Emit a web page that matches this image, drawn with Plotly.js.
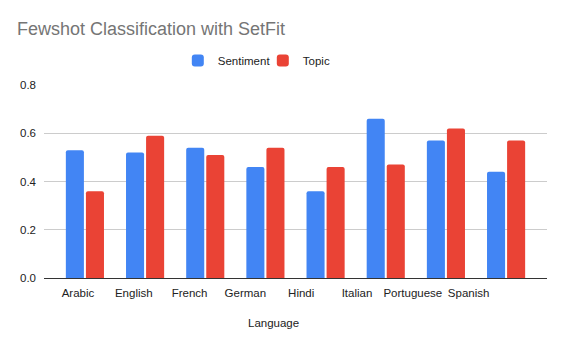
<!DOCTYPE html>
<html>
<head>
<meta charset="utf-8">
<script src="https://cdn.plot.ly/plotly-3.0.1.min.js"></script>
<style>
  html, body { margin: 0; padding: 0; background: #fff; }
  #chart { width: 564px; height: 348px; }
</style>
</head>
<body>
<div id="chart"></div>
<script>
var languages = ['Arabic', 'English', 'French', 'German', 'Hindi', 'Italian', 'Portuguese', 'Spanish'];
var sentiment = [0.53, 0.52, 0.54, 0.46, 0.36, 0.66, 0.57, 0.44];
var topic = [0.36, 0.59, 0.51, 0.54, 0.46, 0.47, 0.62, 0.57];
var yTicks = [0, 0.2, 0.4, 0.6, 0.8];

var idx = languages.map(function(d, i) { return i; });

var txt = { family: 'Arial, "Liberation Sans", sans-serif', size: 11.5, color: '#222' };

var data = [{
    type: 'bar',
    name: 'Sentiment',
    x: languages,
    y: sentiment,
    marker: { color: '#4285F4', cornerradius: 2 },
    hoverinfo: 'none'
}, {
    type: 'bar',
    name: 'Topic',
    x: languages,
    y: topic,
    marker: { color: '#EA4335', cornerradius: 2 },
    hoverinfo: 'none'
}, {
    // empty trace so the label axis gets drawn
    type: 'scatter',
    mode: 'none',
    x: idx,
    y: idx.map(function() { return null; }),
    xaxis: 'x2',
    showlegend: false,
    hoverinfo: 'none'
}];

var layout = {
    width: 564,
    height: 348,
    margin: { l: 44, r: 17, t: 85, b: 70 },
    paper_bgcolor: '#fff',
    plot_bgcolor: '#fff',
    font: txt,
    barmode: 'group',
    bargap: 0.333,
    bargroupgap: 0.1,
    title: {
        text: 'Fewshot Classification with SetFit',
        font: { family: 'Arial, "Liberation Sans", sans-serif', size: 18, color: '#757575' },
        xref: 'container',
        x: 0.03,
        xanchor: 'left',
        yref: 'container',
        y: 0.917,
        yanchor: 'middle'
    },
    showlegend: true,
    legend: {
        orientation: 'h',
        x: 0.435,
        xanchor: 'center',
        y: 1.127,
        yanchor: 'middle',
        font: txt,
        itemwidth: 30,
        entrywidth: 40,
        entrywidthmode: 'pixels'
    },
    xaxis: {
        type: 'category',
        range: [-0.68, 7.68],
        showticklabels: false,
        ticks: '',
        showgrid: false,
        showline: true,
        linecolor: '#333',
        linewidth: 1,
        zeroline: false,
        fixedrange: true
    },
    // labels sit on their own axis, spaced like the reference (slightly tighter than the bars)
    xaxis2: {
        overlaying: 'x',
        anchor: 'y',
        side: 'bottom',
        range: [-0.609, 8.405],
        tickmode: 'array',
        tickvals: idx,
        ticktext: languages,
        ticks: '',
        ticklabelstandoff: 6,
        showgrid: false,
        showline: false,
        zeroline: false,
        tickfont: txt,
        fixedrange: true
    },
    yaxis: {
        range: [0, 0.8],
        tickmode: 'array',
        tickvals: yTicks,
        tickformat: '.1f',
        ticks: '',
        ticklabelstandoff: 7,
        showgrid: true,
        gridcolor: '#ccc',
        gridwidth: 1,
        zeroline: false,
        showline: false,
        tickfont: txt,
        fixedrange: true
    },
    annotations: [{
        text: 'Language',
        xref: 'paper',
        yref: 'paper',
        x: 0.4565,
        xanchor: 'center',
        y: -0.233,
        yanchor: 'middle',
        showarrow: false,
        font: txt
    }]
};

Plotly.newPlot('chart', data, layout, { staticPlot: true, displayModeBar: false });
</script>
</body>
</html>
